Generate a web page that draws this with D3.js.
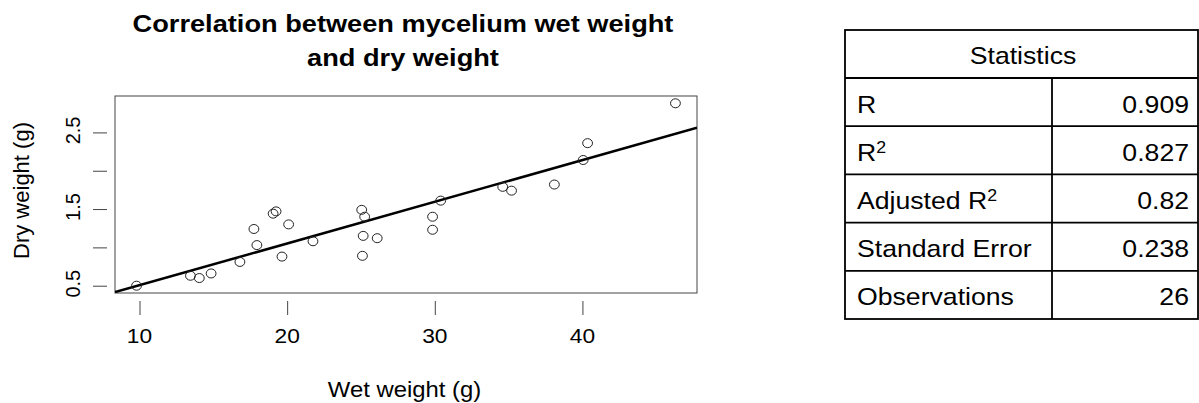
<!DOCTYPE html>
<html>
<head>
<meta charset="utf-8">
<script src="https://cdn.jsdelivr.net/npm/d3@7"></script>
<style>
  body { margin: 0; background: #fff; }
  svg text { font-family: "Liberation Sans", Arial, sans-serif; fill: #000; }
</style>
</head>
<body>
<div id="chart"></div>
<script>
// data
const wetWeight = [9.8, 13.45, 14.05, 14.85, 16.8, 17.75, 17.95, 19.05, 19.25, 19.65,
                   20.1, 21.75, 25.05, 25.25, 25.15, 25.1, 26.1, 29.85, 29.85, 30.4,
                   34.6, 35.2, 38.1, 40.05, 40.35, 46.3];
const dryWeight = [0.50, 0.63, 0.60, 0.66, 0.81, 1.24, 1.03, 1.44, 1.47, 0.88,
                   1.30, 1.08, 1.49, 1.40, 1.15, 0.89, 1.12, 1.40, 1.23, 1.61,
                   1.79, 1.74, 1.82, 2.14, 2.36, 2.88];
const fitLine = { intercept: -0.037, slope: 0.0544 };
const xTicks = [10, 20, 30, 40];
const yTicks = [0.5, 1.0, 1.5, 2.0, 2.5];
const yLabels = [0.5, 1.5, 2.5];

const statNames  = ['R', 'R2', 'Adjusted R2', 'Standard Error', 'Observations'];
const statValues = ['0.909', '0.827', '0.82', '0.238', '26'];

// =============================================
const width = 1199, height = 403;
const box = { left: 115, right: 697, top: 96, bottom: 293 };
const stretch = 1.11;   // the source picture is a bit wide

const svg = d3.select('#chart')
  .append('svg')
  .attr('width', width)
  .attr('height', height);

// text placed at (x, y) and widened a little
function wideText(parent, x, y, str, size, anchor) {
  return parent.append('text')
    .attr('transform', `translate(${x}, ${y}) scale(${stretch}, 1)`)
    .attr('text-anchor', anchor || 'start')
    .style('font-size', size + 'px')
    .text(str);
}

// R style: 4% padding on the data range
function padded(v) {
  const lo = d3.min(v), hi = d3.max(v), p = (hi - lo) * 0.04;
  return [lo - p, hi + p];
}

const x = d3.scaleLinear().domain(padded(wetWeight)).range([box.left, box.right]);
const y = d3.scaleLinear().domain(padded(dryWeight)).range([box.bottom, box.top]);

// title
wideText(svg, 403, 32, 'Correlation between mycelium wet weight', 24.5, 'middle')
  .style('font-weight', 'bold');
wideText(svg, 403, 65.5, 'and dry weight', 24.5, 'middle')
  .style('font-weight', 'bold');

// axes
const xAxis = svg.append('g')
  .attr('transform', `translate(0, ${box.bottom + 8})`)
  .call(d3.axisBottom(x).tickValues(xTicks).tickSize(14).tickFormat('').tickSizeOuter(0));
xAxis.select('.domain')
  .attr('d', `M${x(xTicks[0])},0H${x(xTicks[xTicks.length - 1])}`);

const yAxis = svg.append('g')
  .attr('transform', `translate(${box.left - 8}, 0)`)
  .call(d3.axisLeft(y).tickValues(yTicks).tickSize(14).tickFormat('').tickSizeOuter(0));
yAxis.select('.domain')
  .attr('d', `M0,${y(yTicks[0])}V${y(yTicks[yTicks.length - 1])}`);

[xAxis, yAxis].forEach(a => {
  a.selectAll('.domain').attr('stroke', 'none');
  a.selectAll('line').attr('stroke', '#444');
});

// tick labels
xTicks.forEach(v => wideText(svg, x(v), 342.5, String(v), 20.5, 'middle'));
yLabels.forEach(v => {
  svg.append('text')
     .attr('transform', `translate(80, ${y(v) - 2}) rotate(-90)`)
     .attr('text-anchor', 'middle')
     .style('font-size', '20px')
     .text(d3.format('.1f')(v));
});

// plot box
svg.append('rect')
   .attr('x', box.left).attr('y', box.top)
   .attr('width', box.right - box.left).attr('height', box.bottom - box.top)
   .attr('fill', 'none')
   .attr('stroke', '#444')
   .attr('stroke-width', 1);

// axis titles
wideText(svg, 404.5, 397, 'Wet weight (g)', 21.5, 'middle');
svg.append('text')
   .attr('transform', `translate(29, 190.5) rotate(-90)`)
   .attr('text-anchor', 'middle')
   .style('font-size', '22px')
   .text('Dry weight (g)');

// clip region for regression line
svg.append('clipPath').attr('id', 'plot-clip')
   .append('rect')
   .attr('x', box.left).attr('y', box.top)
   .attr('width', box.right - box.left).attr('height', box.bottom - box.top);

const xd = x.domain();
svg.append('line')
   .attr('clip-path', 'url(#plot-clip)')
   .attr('x1', x(xd[0])).attr('y1', y(fitLine.intercept + fitLine.slope * xd[0]))
   .attr('x2', x(xd[1])).attr('y2', y(fitLine.intercept + fitLine.slope * xd[1]))
   .attr('stroke', '#000')
   .attr('stroke-width', 2.5);

svg.selectAll('ellipse.pt')
   .data(d3.range(wetWeight.length))
   .enter()
   .append('ellipse')
   .attr('class', 'pt')
   .attr('cx', i => x(wetWeight[i]))
   .attr('cy', i => y(dryWeight[i]))
   .attr('rx', 4.9)
   .attr('ry', 4.5)
   .attr('fill', 'none')
   .attr('stroke', '#222')
   .attr('stroke-width', 1);

// =============================================
// statistics table
const tbl = { left: 845, mid: 1052, right: 1198, top: 30, headH: 48 };
const rowH = 48.2;
const rowY = d3.scaleLinear()
  .domain([0, statNames.length])
  .range([tbl.top + tbl.headH, tbl.top + tbl.headH + rowH * statNames.length]);

const t = svg.append('g');
const lineAttr = sel => sel.attr('stroke', '#000').attr('stroke-width', 1.8);

t.append('rect')
 .attr('x', tbl.left).attr('y', tbl.top)
 .attr('width', tbl.right - tbl.left)
 .attr('height', rowY(statNames.length) - tbl.top)
 .attr('fill', 'none')
 .call(lineAttr);

t.selectAll('line.row')
 .data(d3.range(statNames.length))
 .enter()
 .append('line')
 .attr('class', 'row')
 .attr('x1', tbl.left).attr('x2', tbl.right)
 .attr('y1', i => rowY(i)).attr('y2', i => rowY(i))
 .call(lineAttr);

t.append('line')
 .attr('x1', tbl.mid).attr('x2', tbl.mid)
 .attr('y1', rowY(0)).attr('y2', rowY(statNames.length))
 .call(lineAttr);

wideText(t, 1023, tbl.top + 33.5, 'Statistics', 24, 'middle');

statNames.forEach((d, i) => {
  const el = wideText(t, tbl.left + 12, rowY(i) + 34.5, '', 24);
  if (d.endsWith('R2')) {
    el.append('tspan').text(d.slice(0, -1));
    el.append('tspan').attr('dy', -8).style('font-size', '16px').text('2');
  } else {
    el.text(d);
  }
});

statValues.forEach((d, i) => {
  wideText(t, 1189, rowY(i) + 34.5, d, 24, 'end');
});
</script>
</body>
</html>
